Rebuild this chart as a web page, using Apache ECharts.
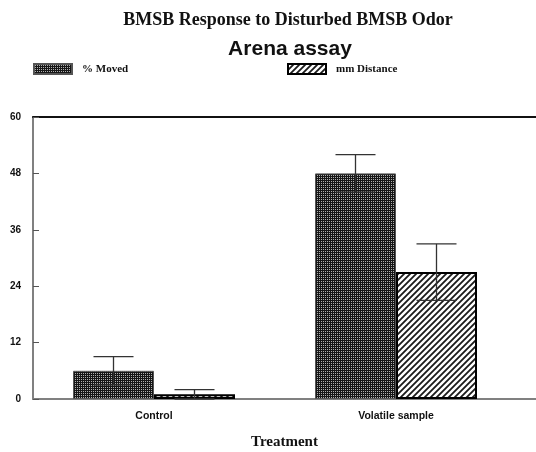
<!DOCTYPE html>
<html>
<head>
<meta charset="utf-8">
<script src="https://cdn.jsdelivr.net/npm/echarts@6/dist/echarts.min.js"></script>
<style>
  html, body { margin: 0; padding: 0; background: #fff; }
  #chart { width: 536px; height: 452px; }
</style>
</head>
<body>
<div id="chart"></div>
<script>
// Treatment groups and measured responses (mean ± SE)
const categories = ['Control', 'Volatile sample'];
const movedMean = [6, 48];
const movedErr = [3, 4];
const distanceMean = [1, 27];
const distanceErr = [1, 6];
const yTicks = [0, 12, 24, 36, 48, 60];

const BAR_W = 81;
const CAP_W = 40;

// Halftone dot fill for "% Moved"
function dotPattern() {
  const c = document.createElement('canvas');
  c.width = 2; c.height = 2;
  const g = c.getContext('2d');
  g.fillStyle = '#161616'; g.fillRect(0, 0, 2, 2);
  g.fillStyle = '#b0b0b0'; g.fillRect(1, 1, 1, 1);
  return c;
}
// Diagonal hatch fill for "mm Distance"
function hatchPattern() {
  const s = 6;
  const c = document.createElement('canvas');
  c.width = s; c.height = s;
  const g = c.getContext('2d');
  g.fillStyle = '#fff'; g.fillRect(0, 0, s, s);
  g.strokeStyle = '#1a1a1a'; g.lineWidth = 1.8;
  g.beginPath();
  g.moveTo(-1, s + 1); g.lineTo(s + 1, -1);
  g.moveTo(-1, 1); g.lineTo(1, -1);
  g.moveTo(s - 1, s + 1); g.lineTo(s + 1, s - 1);
  g.stroke();
  return c;
}

const xPos = categories.map((_, i) => i + 0.5);
const movedData = movedMean.map((v, i) => [xPos[i], v]);
const distData = distanceMean.map((v, i) => [xPos[i], v]);
const errData = [
  ...movedMean.map((v, i) => [xPos[i], v - movedErr[i], v + movedErr[i], -1]),
  ...distanceMean.map((v, i) => [xPos[i], v - distanceErr[i], v + distanceErr[i], 1])
];

const chart = echarts.init(document.getElementById('chart'), null, { renderer: 'canvas' });

const sans = 'Liberation Sans, Arial, sans-serif';
const serif = 'Liberation Serif, Times New Roman, serif';
const XMAX = 503 / 242;

chart.setOption({
  animation: false,
  backgroundColor: '#fff',
  title: [
    { text: 'BMSB Response to Disturbed BMSB Odor', left: 288, top: 11, padding: 0, textAlign: 'center',
      textStyle: { fontFamily: serif, fontWeight: 'bold', fontSize: 18, color: '#111' } },
    { text: 'Arena assay', left: 290, top: 39, padding: 0, textAlign: 'center',
      textStyle: { fontFamily: sans, fontWeight: 'bold', fontSize: 21, color: '#111' } }
  ],
  legend: [
    { data: ['% Moved'], left: 33, top: 63, padding: 0, icon: 'rect', itemWidth: 38, itemHeight: 10,
      textStyle: { fontFamily: serif, fontWeight: 'bold', fontSize: 11, color: '#111', padding: [0, 0, 0, 5] } },
    { data: ['mm Distance'], left: 287, top: 63, padding: 0, icon: 'rect', itemWidth: 38, itemHeight: 10,
      textStyle: { fontFamily: serif, fontWeight: 'bold', fontSize: 11, color: '#111', padding: [0, 0, 0, 5] } }
  ],
  grid: { left: 33, right: 0, top: 117, bottom: 53, containLabel: false, outerBoundsMode: 'none' },
  xAxis: [
    {
      type: 'value', min: 0, max: XMAX, interval: 0.5,
      name: 'Treatment', nameLocation: 'middle', nameGap: 36,
      nameTextStyle: { fontFamily: serif, fontWeight: 'bold', fontSize: 15, color: '#111' },
      axisLine: { show: true, lineStyle: { color: '#808080', width: 2 } },
      axisTick: { show: false },
      splitLine: { show: false },
      axisLabel: {
        margin: 12, fontFamily: sans, fontWeight: 'bold', fontSize: 10.5, color: '#111',
        showMaxLabel: false,
        formatter: v => {
          const i = xPos.findIndex(p => Math.abs(p - v) < 1e-6);
          return i >= 0 ? categories[i] : '';
        }
      }
    },
    {
      type: 'value', position: 'top', min: 0, max: XMAX,
      axisLine: { show: true, onZero: false, lineStyle: { color: '#111', width: 2 } },
      axisTick: { show: false }, axisLabel: { show: false }, splitLine: { show: false }
    }
  ],
  yAxis: {
    type: 'value', min: yTicks[0], max: yTicks[yTicks.length - 1], interval: 12,
    axisLine: { show: true, lineStyle: { color: '#808080', width: 2 } },
    axisTick: { show: true, inside: true, length: 6, lineStyle: { color: '#555', width: 1 } },
    splitLine: { show: false },
    axisLabel: { margin: 12, fontFamily: sans, fontWeight: 'bold', fontSize: 10, color: '#111' }
  },
  series: [
    {
      name: '% Moved', type: 'bar', data: movedData, barWidth: BAR_W, barGap: '0%',
      itemStyle: { color: { image: dotPattern(), repeat: 'repeat' }, borderColor: '#555', borderWidth: 1 }
    },
    {
      name: 'mm Distance', type: 'bar', data: distData, barWidth: BAR_W, barGap: '0%',
      itemStyle: { color: { image: hatchPattern(), repeat: 'repeat' }, borderColor: '#000', borderWidth: 2 }
    },
    {
      type: 'custom', data: errData, z: 10,
      renderItem: (params, api) => {
        const side = api.value(3);
        const lo = api.coord([api.value(0), api.value(1)]);
        const hi = api.coord([api.value(0), api.value(2)]);
        const x = lo[0] + side * BAR_W / 2;
        const style = { stroke: '#333', lineWidth: 1.3 };
        return {
          type: 'group',
          children: [
            { type: 'line', shape: { x1: x, y1: lo[1], x2: x, y2: hi[1] }, style },
            { type: 'line', shape: { x1: x - CAP_W / 2, y1: hi[1], x2: x + CAP_W / 2, y2: hi[1] }, style },
            { type: 'line', shape: { x1: x - CAP_W / 2, y1: lo[1], x2: x + CAP_W / 2, y2: lo[1] }, style }
          ]
        };
      }
    }
  ]
});
</script>
</body>
</html>
